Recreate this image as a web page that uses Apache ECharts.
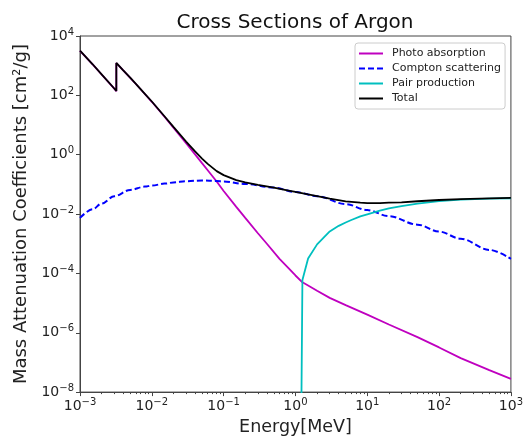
<!DOCTYPE html>
<html>
<head>
<meta charset="utf-8">
<script src="https://cdn.jsdelivr.net/npm/echarts@6/dist/echarts.min.js"></script>
<style>
html,body{margin:0;padding:0;background:#fff;}
#c{width:526px;height:441px;}
</style>
</head>
<body>
<div id="c"></div>
<script>
// Energy [MeV] and mass attenuation coefficients [cm^2/g]
const photoE = [0.001,0.0015,0.002,0.003,0.003206,0.003206,0.004,0.005,0.006,0.008,0.01,0.015,0.02,0.03,0.04,0.05,0.06,0.08,0.1,0.15,0.2,0.3,0.4,0.6,0.8,1,1.25,1.5,2,3,5,10,20,50,100,200,500,1000];
const photoV = [3180,1110,505,168,138,1230,690,390,241,111,60.7,19.0,8.2,2.45,1.03,0.52,0.30,0.125,0.060,0.0175,0.0074,0.00225,0.00100,0.00031,0.000150,0.000085,0.000050,0.000039,0.000026,0.000015,0.0000085,0.0000041,0.0000019,7.1e-7,3.2e-7,1.4e-7,5.5e-8,2.8e-8];

const comptonE = [0.001,0.0015,0.002,0.003,0.005,0.008,0.01,0.015,0.02,0.03,0.05,0.08,0.1,0.2,0.5,1,2,5,10,20,50,100,200,500,1000];
const comptonV = [0.0074,0.0145,0.0226,0.040,0.065,0.084,0.091,0.106,0.1156,0.128,0.135,0.130,0.124,0.103,0.078,0.0556,0.040,0.0217,0.0136,0.0085,0.0044,0.00256,0.00148,0.00062,0.00031];

const pairE = [1.022,1.25,1.5,2,3,4,5,6,8,10,15,20,30,50,100,200,500,1000];
const pairV = [1e-30,0.00006,0.00032,0.00095,0.0026,0.0040,0.0052,0.0063,0.0083,0.0098,0.0131,0.0156,0.0186,0.0226,0.0271,0.0304,0.0329,0.0341];

const totalE = [0.001,0.0015,0.002,0.003,0.003206,0.003206,0.004,0.005,0.006,0.008,0.01,0.015,0.02,0.03,0.04,0.05,0.06,0.08,0.1,0.15,0.2,0.3,0.5,0.8,1,1.5,2,3,5,8,10,15,20,30,50,100,200,500,1000];
const totalV = [3190,1115,512,170,140,1237,696,393,244,113,62,19.8,8.7,2.78,1.29,0.74,0.49,0.28,0.205,0.140,0.117,0.097,0.078,0.062,0.0556,0.046,0.0405,0.0333,0.0269,0.0241,0.0234,0.0234,0.0241,0.0249,0.027,0.0297,0.0319,0.0336,0.035];

const seriesNames = ['Photo absorption','Compton scattering','Pair production','Total'];
const titleText = 'Cross Sections of Argon';
const xName = 'Energy[MeV]';
const yName = 'Mass Attenuation Coefficients [cm²/g]';

// tick positions (decades and 2..9 minor ticks) for the energy axis
const xMajorTicks = [1e-3,1e-2,1e-1,1,10,100,1000];
const xMinorTicks = [];
for (let i = 0; i < xMajorTicks.length - 1; i++) {
  for (let k = 2; k <= 9; k++) xMinorTicks.push(+(k * xMajorTicks[i]).toPrecision(3));
}

function zip(a,b){return a.map((v,i)=>[v,b[i]]);}
function supLabel(v){
  const e = Math.round(Math.log10(v));
  const s = String(e).replace('-','\u2212');
  return '{b|10}{s|' + s + '}';
}
const rich = {
  b:{fontSize:14,color:'#222',fontFamily:'DejaVu Sans',lineHeight:18},
  s:{fontSize:10,color:'#222',fontFamily:'DejaVu Sans',lineHeight:10,verticalAlign:'top'}
};
const axisColor = '#444';

const chart = echarts.init(document.getElementById('c'), null, {renderer:'canvas'});
chart.setOption({
  animation:false,
  backgroundColor:'#fff',
  title:{text:titleText,left:290,textAlign:'center',top:8,
    textStyle:{fontFamily:'DejaVu Sans',fontSize:20,fontWeight:'normal',color:'#111'}},
  grid:{left:80,right:13,top:36,bottom:45,show:true,borderColor:axisColor,borderWidth:1,backgroundColor:'transparent'},
  legend:{
    orient:'vertical',left:355,top:43,
    padding:[5,4,5,3],itemGap:4,itemWidth:24,itemHeight:12,
    backgroundColor:'#fff',borderColor:'#ccc',borderWidth:1,borderRadius:3,
    itemStyle:{opacity:0},
    textStyle:{fontFamily:'DejaVu Sans',fontSize:11,color:'#222',padding:[0,0,0,4]},
    data:seriesNames
  },
  xAxis:[{
    type:'log',min:1e-3,max:1e3,interval:1,logBase:10,
    name:xName,nameLocation:'middle',nameGap:17,
    nameTextStyle:{fontFamily:'DejaVu Sans',fontSize:17.5,color:'#222'},
    axisLine:{show:true,lineStyle:{color:axisColor,width:1}},
    axisTick:{show:true,length:4,inside:false,customValues:xMajorTicks,lineStyle:{color:axisColor}},
    splitLine:{show:false},
    axisLabel:{formatter:supLabel,rich:rich,margin:5,customValues:xMajorTicks}
  },{
    type:'log',min:1e-3,max:1e3,logBase:10,position:'bottom',gridIndex:0,
    axisLine:{show:false},
    axisTick:{show:true,length:2,inside:false,customValues:xMinorTicks,lineStyle:{color:axisColor}},
    axisLabel:{show:false},splitLine:{show:false}
  }],
  yAxis:{
    type:'log',min:1e-8,max:1e4,interval:2,logBase:10,
    name:yName,nameLocation:'middle',nameGap:50,nameRotate:90,
    nameTextStyle:{fontFamily:'DejaVu Sans',fontSize:18,color:'#222'},
    axisLine:{show:true,lineStyle:{color:axisColor,width:1}},
    axisTick:{show:true,length:4,inside:false,lineStyle:{color:axisColor}},
    splitLine:{show:false},
    axisLabel:{formatter:supLabel,rich:rich,margin:6}
  },
  series:[
    {name:seriesNames[0],type:'line',data:zip(photoE,photoV),showSymbol:false,symbol:'none',
      lineStyle:{color:'#bf00bf',width:1.8},itemStyle:{color:'#bf00bf'},z:2},
    {name:seriesNames[1],type:'line',data:zip(comptonE,comptonV),showSymbol:false,symbol:'none',
      smooth:0.35,smoothMonotone:'x',
      lineStyle:{color:'#0000ff',width:2,type:[6,3]},itemStyle:{color:'#0000ff'},z:3},
    {name:seriesNames[2],type:'line',data:zip(pairE,pairV),showSymbol:false,symbol:'none',
      lineStyle:{color:'#00bfbf',width:1.8},itemStyle:{color:'#00bfbf'},z:4},
    {name:seriesNames[3],type:'line',data:zip(totalE,totalV),showSymbol:false,symbol:'none',
      lineStyle:{color:'#000',width:1.8},itemStyle:{color:'#000'},z:5}
  ]
});
</script>
</body>
</html>
